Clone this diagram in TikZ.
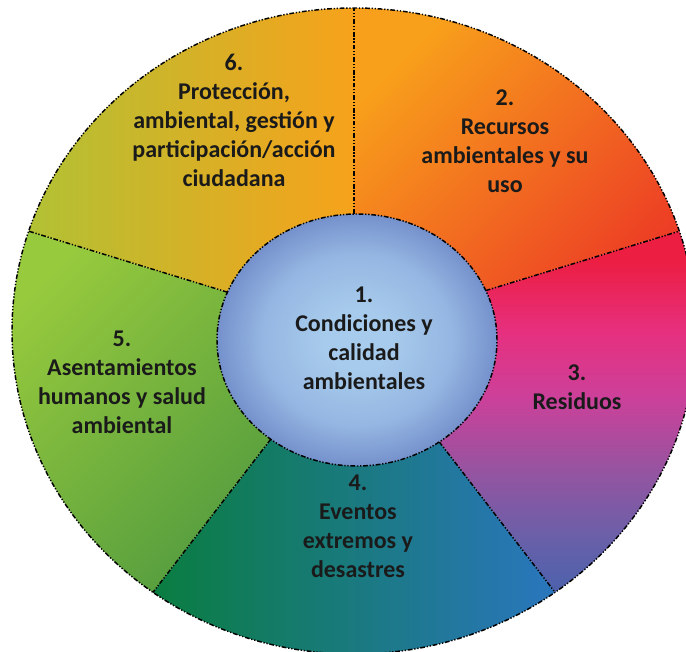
\documentclass[tikz,border=0pt]{standalone}
\usepackage{fontspec}
\setmainfont{Carlito}
\definecolor{sixR}{HTML}{F7A21B}
\definecolor{sixL}{HTML}{B2C134}
\definecolor{twoA}{HTML}{F8A01B}
\definecolor{twoB}{HTML}{EC3A25}
\definecolor{threeA}{HTML}{EC1E42}
\definecolor{threeB}{HTML}{E6307F}
\definecolor{threeC}{HTML}{CC409A}
\definecolor{threeD}{HTML}{9654A0}
\definecolor{threeE}{HTML}{6760A9}
\definecolor{threeF}{HTML}{5061AC}
\definecolor{fourL}{HTML}{0A7D40}
\definecolor{fourR}{HTML}{2A76BE}
\definecolor{fiveA}{HTML}{97CA3D}
\definecolor{fiveB}{HTML}{4B963F}
\definecolor{innerC}{HTML}{A7CBEC}
\definecolor{innerM}{HTML}{95B6E2}
\definecolor{innerE}{HTML}{7591CC}
\definecolor{txt}{HTML}{1A1A1A}
\pgfdeclareradialshading{innerglow}{\pgfpoint{0bp}{0bp}}{color(0bp)=(innerC); color(6bp)=(innerC); color(17bp)=(innerM); color(25bp)=(innerE); color(50bp)=(innerE)}
\pgfdeclareverticalshading{threeshade}{100bp}{color(0bp)=(threeF); color(26bp)=(threeF); color(32bp)=(threeE); color(42bp)=(threeD); color(52bp)=(threeC); color(61bp)=(threeB); color(71bp)=(threeA); color(100bp)=(threeA)}
\begin{document}
\begin{tikzpicture}[x=0.75pt,y=0.75pt,
  border/.style={line width=1.1pt, dash pattern=on 3.6pt off 1.3pt on 1pt off 1.3pt on 1pt off 1.3pt},
  lbl/.style={font=\fontsize{18}{21.75}\selectfont\bfseries, text=txt, align=center, inner sep=0pt}]
\useasboundingbox (0,0) rectangle (686,651);
\clip (0,0) rectangle (686,651);
\coordinate (C) at (354,320);
\path (C) ++(90:256.5pt and 242.25pt) coordinate (o90);
\path (C) ++(18:256.5pt and 242.25pt) coordinate (o18);
\path (C) ++(-54:256.5pt and 242.25pt) coordinate (om54);
\path (C) ++(-126:256.5pt and 242.25pt) coordinate (om126);
\path (C) ++(162:256.5pt and 242.25pt) coordinate (o162);
\coordinate (i90) at (354,437);
\coordinate (i18) at (485.7,360.4);
\coordinate (im54) at (439.2,209.2);
\coordinate (im126) at (270.7,211.7);
\coordinate (i162) at (227.5,358.8);
\coordinate (IC) at (357,311);
% sectors
\shade[top color=twoA, bottom color=twoB, shading angle=45]
  (C) -- (o18) arc[start angle=18, end angle=90, x radius=256.5pt, y radius=242.25pt] -- cycle;
\shade[shading=threeshade]
  (C) -- (om54) arc[start angle=-54, end angle=18, x radius=256.5pt, y radius=242.25pt] -- cycle;
\shade[left color=fourL, right color=fourR]
  (C) -- (om126) arc[start angle=-126, end angle=-54, x radius=256.5pt, y radius=242.25pt] -- cycle;
\shade[top color=fiveA, bottom color=fiveB, shading angle=45]
  (C) -- (o162) arc[start angle=162, end angle=234, x radius=256.5pt, y radius=242.25pt] -- cycle;
\shade[left color=sixL, right color=sixR]
  (C) -- (o90) arc[start angle=90, end angle=162, x radius=256.5pt, y radius=242.25pt] -- cycle;
% outline and dividers
\draw[border] (C) ellipse [x radius=256.5pt, y radius=242.25pt];
\draw[border] (i90) -- (o90);
\draw[border] (i18) -- (o18);
\draw[border] (im54) -- (om54);
\draw[border] (im126) -- (om126);
\draw[border] (i162) -- (o162);
% centre
\shade[shading=innerglow] (IC) ellipse [x radius=105pt, y radius=94.5pt];
\draw[border] (IC) ellipse [x radius=105pt, y radius=94.5pt];
% labels
\node[lbl] (t1) at (364,312.5) {1.\\Condiciones y\\calidad\\ambientales};
\node[lbl] (t2) at (505,510) {2.\\Recursos\\ambientales y su\\uso};
\node[lbl] (t3) at (577,263.5) {3.\\Residuos};
\node[lbl] (t4) at (358,124.5) {4.\\Eventos\\extremos y\\desastres};
\node[lbl] (t5) at (122,268.5) {5.\\Asentamientos\\humanos y salud\\ambiental};
\node[lbl] (t6) at (234,531) {6.\\Protección,\\ambiental, gestión y\\participación/acción\\ciudadana};
\end{tikzpicture}
\end{document}
